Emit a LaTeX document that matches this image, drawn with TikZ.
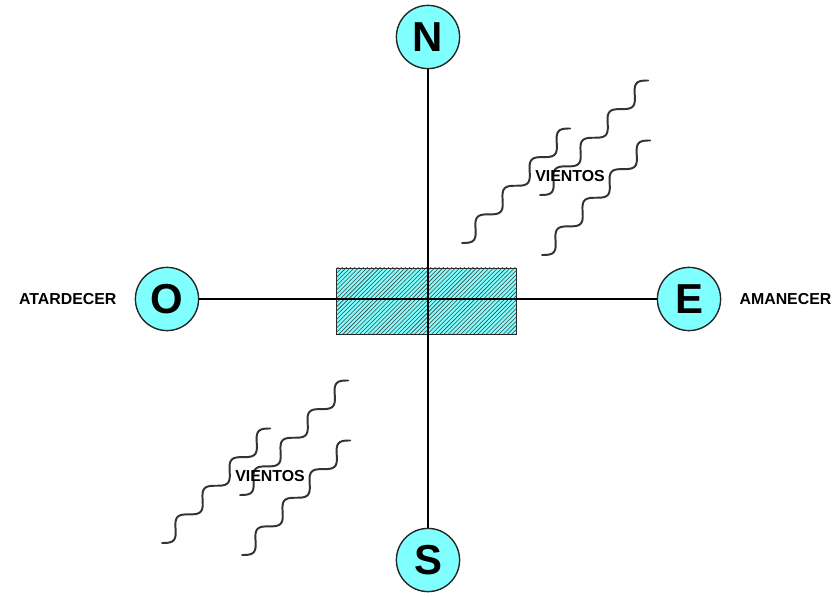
\documentclass[tikz,border=0pt]{standalone}
\usepackage{fontspec}
\setmainfont{Liberation Sans}
\usepackage{xcolor}
\usepackage{tikz}
\usetikzlibrary{positioning,patterns}
\definecolor{celeste}{RGB}{128,255,255}

\begin{document}
\begin{tikzpicture}[
  node distance=4.5mm,
  punto/.style={
    draw=black!85,
    line width=1pt,
    circle,
    fill=celeste,
    minimum size=1.58cm,
    inner sep=0pt,
    font=\fontsize{29.8}{30}\selectfont\bfseries
  },
  rotulo/.style={
    inner sep=0pt,
    font=\fontsize{11.3}{12}\selectfont\bfseries
  },
  eje/.style={line width=1.4pt},
  viento/.style={line width=1.4pt,black!80,line cap=round}
]
  \useasboundingbox (0,0) rectangle (20.95,14.925);

  \node[draw=black!85,fill=celeste,minimum width=4.5cm,minimum height=1.65cm,
        postaction={pattern=north east lines,pattern color=black!75}] (casa) at (10.65,7.4) {};

  \node[punto] (norte) at (10.7,14.0) {N};
  \node[punto] (sur) at (10.7,0.925) {S};
  \node[punto] (oeste) at (4.175,7.45) {O};
  \node[punto] (este) at (17.225,7.45) {E};

  \node[rotulo,left=of oeste] (atardecer) {ATARDECER};
  \node[rotulo,right=of este] (amanecer) {AMANECER};

  \draw[eje] (norte) -- (sur);
  \draw[eje] (oeste) -- (este);

  % vientos
  \foreach \dx/\dy/\nombre in {0/0/vnorte, -7.5/-7.5/vsur} {
    \begin{scope}[shift={(\dx,\dy)}]
      \foreach \px/\py in {11.55/8.85, 13.5/10.05, 13.55/8.55}
        \draw[viento,shift={(\px,\py)},rotate=46.6]
          plot[domain=0:4,samples=97,smooth] ({0.985*\x},{-0.165*sin(\x*360)});
      \node[rotulo] (\nombre) at (14.25,10.525) {VIENTOS};
    \end{scope}
  }
\end{tikzpicture}
\end{document}
